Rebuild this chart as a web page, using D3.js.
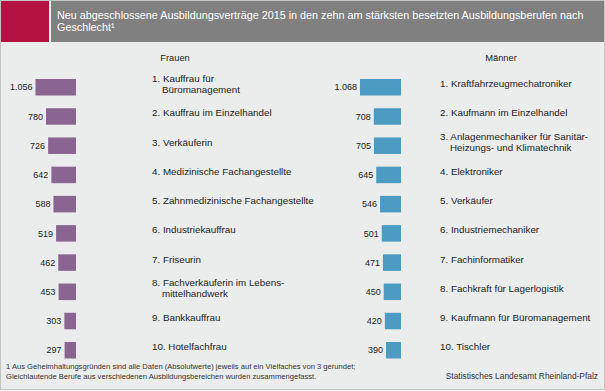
<!DOCTYPE html>
<html>
<head>
<meta charset="utf-8">
<script src="https://cdn.jsdelivr.net/npm/d3@7"></script>
<style>
  body { margin: 0; background: #fff; }
  text { font-family: "Liberation Sans", Arial, sans-serif; }
</style>
</head>
<body>
<div id="chart"></div>
<script>
const width = 605, height = 391;

// data
const frauenBerufe = [
    ["1. Kauffrau für", "Büromanagement"],
    ["2. Kauffrau im Einzelhandel"],
    ["3. Verkäuferin"],
    ["4. Medizinische Fachangestellte"],
    ["5. Zahnmedizinische Fachangestellte"],
    ["6. Industriekauffrau"],
    ["7. Friseurin"],
    ["8. Fachverkäuferin im Lebens-", "mittelhandwerk"],
    ["9. Bankkauffrau"],
    ["10. Hotelfachfrau"]
];
const frauenWerte = [1056, 780, 726, 642, 588, 519, 462, 453, 303, 297];

const maennerBerufe = [
    ["1. Kraftfahrzeugmechatroniker"],
    ["2. Kaufmann im Einzelhandel"],
    ["3. Anlagenmechaniker für Sanitär-", "Heizungs- und Klimatechnik"],
    ["4. Elektroniker"],
    ["5. Verkäufer"],
    ["6. Industriemechaniker"],
    ["7. Fachinformatiker"],
    ["8. Fachkraft für Lagerlogistik"],
    ["9. Kaufmann für Büromanagement"],
    ["10. Tischler"]
];
const maennerWerte = [1068, 708, 705, 645, 546, 501, 471, 450, 420, 390];

const titel = ["Neu abgeschlossene Ausbildungsverträge 2015 in den zehn am stärksten besetzten Ausbildungsberufen nach",
               "Geschlecht¹"];
const fussnote = ["1 Aus Geheimhaltungsgründen sind alle Daten (Absolutwerte) jeweils auf ein Vielfaches von 3 gerundet;",
                  "Gleichlautende Berufe aus verschiedenen Ausbildungsbereichen wurden zusammengefasst."];
const quelle = "Statistisches Landesamt Rheinland-Pfalz";

const de = d3.formatLocale({decimal: ",", thousands: ".", grouping: [3], currency: ["", " €"]});
const fmt = de.format(",d");

const svg = d3.select("#chart")
    .append("svg")
        .attr("width", width)
        .attr("height", height);

// background + border
svg.append("rect")
    .attr("x", 0.5).attr("y", 0.5)
    .attr("width", width - 1).attr("height", height - 2)
    .attr("fill", "#ebecec")
    .attr("stroke", "#c4c4c4");

// header
svg.append("rect")
    .attr("x", 1).attr("y", 1).attr("width", 48).attr("height", 41)
    .attr("fill", "#b31241");
svg.append("rect")
    .attr("x", 51).attr("y", 1).attr("width", 553).attr("height", 41)
    .attr("fill", "#808080");

svg.append("text")
    .attr("x", 57).attr("y", 19)
    .attr("fill", "#fff")
    .style("font-size", "10.8px")
    .selectAll("tspan")
    .data(titel)
    .join("tspan")
        .attr("x", 57)
        .attr("dy", (d, i) => i ? 12 : 0)
        .text(d => d);

const x = d3.scaleLinear()
    .domain([0, d3.max(maennerWerte)])
    .range([0, 41]);

const y = d3.scaleBand()
    .domain(d3.range(10))
    .range([79, 358.5])
    .paddingInner(0.435)
    .paddingOuter(0);

function panel(name, berufe, werte, barRight, labelX, headX, color) {
    const g = svg.append("g");

    g.append("text")
        .attr("x", headX).attr("y", 61)
        .attr("text-anchor", "middle")
        .attr("fill", "#222")
        .style("font-size", "9.3px")
        .text(name);

    const rows = g.selectAll("g.row")
        .data(werte.map((v, i) => ({v, i, label: berufe[i]})))
        .join("g")
            .attr("class", "row");

    rows.append("rect")
        .attr("x", d => barRight - x(d.v))
        .attr("y", d => y(d.i))
        .attr("width", d => x(d.v))
        .attr("height", y.bandwidth())
        .attr("fill", color);

    rows.append("text")
        .attr("x", d => barRight - x(d.v) - 3)
        .attr("y", d => y(d.i) + y.bandwidth() / 2)
        .attr("dy", "0.35em")
        .attr("text-anchor", "end")
        .attr("fill", "#222")
        .style("font-size", "9px")
        .text(d => fmt(d.v));

    rows.append("text")
        .attr("y", d => y(d.i) + y.bandwidth() / 2 - (d.label.length - 1) * 5.5)
        .attr("dy", "0.35em")
        .attr("fill", "#222")
        .style("font-size", "9.8px")
        .selectAll("tspan")
        .data(d => d.label)
        .join("tspan")
            .attr("x", (t, j) => j ? labelX + 10 : labelX)
            .attr("dy", (t, j) => j ? 11 : 0)
            .text(t => t);
}

panel("Frauen", frauenBerufe, frauenWerte, 76, 152, 175, "#8b6592");
panel("Männer", maennerBerufe, maennerWerte, 401, 440, 501, "#4b9bc2");

// footnote + source
svg.append("text")
    .attr("y", 369)
    .attr("fill", "#333")
    .style("font-size", "7.6px")
    .selectAll("tspan")
    .data(fussnote)
    .join("tspan")
        .attr("x", 6)
        .attr("dy", (d, i) => i ? 10 : 0)
        .text(d => d);

svg.append("text")
    .attr("x", 598).attr("y", 379)
    .attr("text-anchor", "end")
    .attr("fill", "#333")
    .style("font-size", "8.4px")
    .text(quelle);
</script>
</body>
</html>
